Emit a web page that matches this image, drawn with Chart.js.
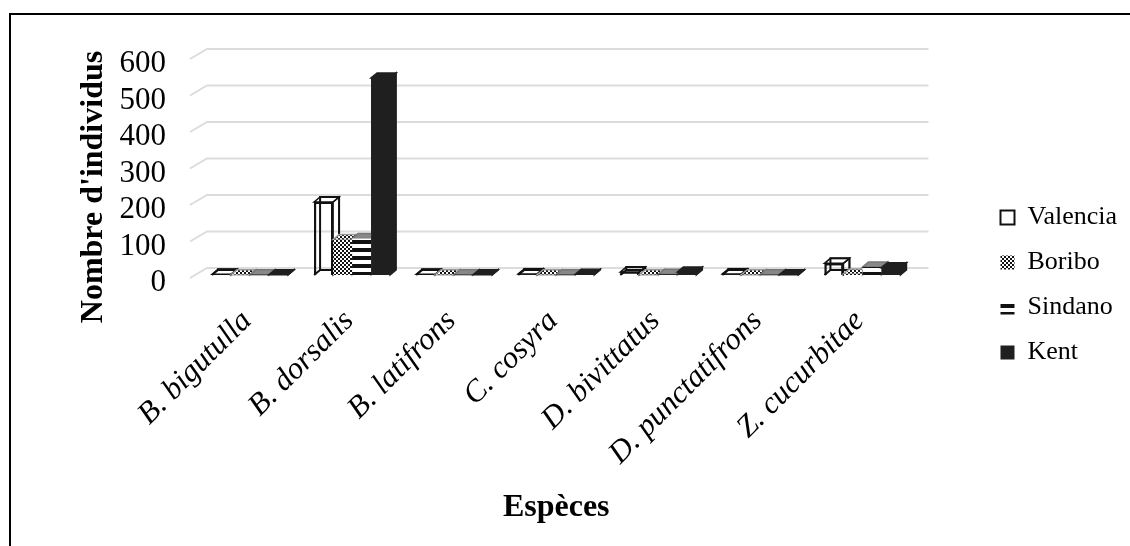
<!DOCTYPE html>
<html>
<head>
<meta charset="utf-8">
<title>Nombre d'individus par espèce</title>
<script src="https://cdn.jsdelivr.net/npm/chart.js@4"></script>
<style>
    html, body { margin: 0; padding: 0; background: #fff; }
    #wrap { position: relative; width: 1130px; height: 546px; }
</style>
</head>
<body>
<div id="wrap"><canvas id="chart" width="1130" height="546"></canvas></div>
<script>
const categories = ['B. bigutulla', 'B. dorsalis', 'B. latifrons', 'C. cosyra', 'D. bivittatus', 'D. punctatifrons', 'Z. cucurbitae'];
const valencia = [2, 200, 2, 3, 8, 3, 32];
const boribo = [1, 97, 1, 1, 1, 1, 3];
const sindano = [1, 100, 1, 1, 2, 1, 22];
const kent = [1, 540, 1, 2, 8, 1, 20];
const yTicks = [0, 100, 200, 300, 400, 500, 600];

const FONT = "'Liberation Serif', 'Times New Roman', serif";
const DEPTH_X = 6, DEPTH_Y = 5;       // bar depth
const WALL_Y = 7;                     // back wall offset

function makePattern(size, paint) {
    const c = document.createElement('canvas');
    c.width = size; c.height = size;
    const g = c.getContext('2d');
    g.fillStyle = '#fff';
    g.fillRect(0, 0, size, size);
    g.fillStyle = '#111';
    paint(g);
    return g.createPattern(c, 'repeat');
}

// small dither for Boribo
const checker = makePattern(4, g => {
    g.fillRect(0, 0, 2, 2);
    g.fillRect(2, 2, 2, 2);
});
// horizontal bars for Sindano
const stripes = makePattern(8, g => g.fillRect(0, 0, 8, 4));

// floor + back wall grid
const wallGrid = {
    id: 'wallGrid',
    beforeDatasetsDraw(chart) {
        const { ctx, scales: { x, y } } = chart;
        ctx.save();
        ctx.strokeStyle = '#dcdcdc';
        ctx.lineWidth = 2;
        yTicks.forEach(v => {
            const py = y.getPixelForValue(v);
            ctx.beginPath();
            ctx.moveTo(x.left - 9, py + 3);
            ctx.lineTo(x.left + 8, py - WALL_Y);
            ctx.lineTo(x.right + 15, py - WALL_Y);
            ctx.stroke();
        });
        ctx.restore();
    }
};

// sides and top of each bar, then the front again so the next bar covers the previous side
const barSides = {
    id: 'barSides',
    afterDatasetsDraw(chart) {
        const { ctx } = chart;
        ctx.save();
        chart.data.datasets.forEach((ds, i) => {
            const meta = chart.getDatasetMeta(i);
            meta.data.forEach(bar => {
                const l = bar.x - bar.width / 2, r = bar.x + bar.width / 2;
                const top = bar.y, base = bar.base;
                ctx.fillStyle = ds.sideColor;
                ctx.strokeStyle = ds.sideLine;
                ctx.lineWidth = 1.5;
                ctx.beginPath();
                ctx.moveTo(l, top);
                ctx.lineTo(l + DEPTH_X, top - DEPTH_Y);
                ctx.lineTo(r + DEPTH_X, top - DEPTH_Y);
                ctx.lineTo(r, top);
                ctx.closePath();
                ctx.fill();
                ctx.stroke();
                ctx.beginPath();
                ctx.moveTo(r, top);
                ctx.lineTo(r + DEPTH_X, top - DEPTH_Y);
                ctx.lineTo(r + DEPTH_X, base - DEPTH_Y);
                ctx.lineTo(r, base);
                ctx.closePath();
                ctx.fill();
                ctx.stroke();
                bar.draw(ctx);
                if (ds.wire) {
                    // Valencia is see-through, back edges show
                    ctx.strokeStyle = ds.sideLine;
                    ctx.lineWidth = 2;
                    ctx.strokeRect(l + DEPTH_X, top - DEPTH_Y, r - l, base - top);
                    ctx.beginPath();
                    ctx.moveTo(l, base);
                    ctx.lineTo(l + DEPTH_X, base - DEPTH_Y);
                    ctx.stroke();
                }
            });
        });
        ctx.restore();
    }
};

// frame (open right and bottom) and the y title, which sits lower than the axis centre
const frame = {
    id: 'frame',
    afterDraw(chart) {
        const { ctx, width, height } = chart;
        ctx.save();
        ctx.strokeStyle = '#000';
        ctx.lineWidth = 2;
        ctx.beginPath();
        ctx.moveTo(10, height);
        ctx.lineTo(10, 14);
        ctx.lineTo(width, 14);
        ctx.stroke();
        ctx.translate(102, 187);
        ctx.rotate(-Math.PI / 2);
        ctx.fillStyle = '#000';
        ctx.font = 'bold 32px ' + FONT;
        ctx.textAlign = 'center';
        ctx.textBaseline = 'alphabetic';
        ctx.fillText("Nombre d'individus", 0, 0);
        ctx.restore();
    }
};

new Chart(document.getElementById('chart'), {
    type: 'bar',
    data: {
        labels: categories,
        datasets: [
            { label: 'Valencia', data: valencia, backgroundColor: 'rgba(255,255,255,0)', borderColor: '#111', borderWidth: 2, sideColor: 'rgba(255,255,255,0)', sideLine: '#111', wire: true },
            { label: 'Boribo', data: boribo, backgroundColor: checker, sideColor: checker, sideLine: '#999' },
            { label: 'Sindano', data: sindano, backgroundColor: stripes, sideColor: '#888', sideLine: '#777' },
            { label: 'Kent', data: kent, backgroundColor: '#1f1f1f', sideColor: '#1f1f1f', sideLine: '#1f1f1f' }
        ]
    },
    plugins: [wallGrid, barSides, frame],
    options: {
        responsive: false,
        animation: false,
        layout: { padding: { top: 39, left: 12, right: 3, bottom: 15 } },
        datasets: { bar: { categoryPercentage: 0.745, barPercentage: 1 } },
        plugins: {
            legend: {
                position: 'right',
                labels: {
                    color: '#000',
                    font: { family: FONT, size: 26 },
                    boxWidth: 14,
                    boxHeight: 14,
                    padding: 19
                }
            },
            tooltip: { enabled: false }
        },
        scales: {
            x: {
                grid: { display: false },
                border: { display: false },
                ticks: {
                    color: '#000',
                    maxRotation: 45,
                    minRotation: 45,
                    padding: 20,
                    labelOffset: -3,
                    font: { family: FONT, size: 31, style: 'italic' }
                },
                title: {
                    display: true,
                    text: 'Espèces',
                    color: '#000',
                    font: { family: FONT, size: 32, weight: 'bold' }
                },
                afterFit(s) { s.height = 256; }
            },
            y: {
                min: 0,
                max: 600,
                afterBuildTicks(s) { s.ticks = yTicks.map(v => ({ value: v })); },
                grid: { display: false },
                border: { display: false },
                ticks: {
                    color: '#000',
                    padding: 25,
                    labelOffset: 8,
                    autoSkip: false,
                    font: { family: FONT, size: 31 }
                },
                afterFit(s) { s.width = 187; }
            },
            // empty column between the plot and the legend
            gap: {
                axis: 'y',
                position: 'right',
                grid: { display: false },
                border: { display: false },
                ticks: { display: false },
                afterFit(s) { s.width = 68; }
            },
            // empty strip above the plot, the legend does not move with it
            gapTop: {
                axis: 'x',
                position: 'top',
                grid: { display: false },
                border: { display: false },
                ticks: { display: false },
                afterFit(s) { s.height = 17; }
            }
        }
    }
});
</script>
</body>
</html>
